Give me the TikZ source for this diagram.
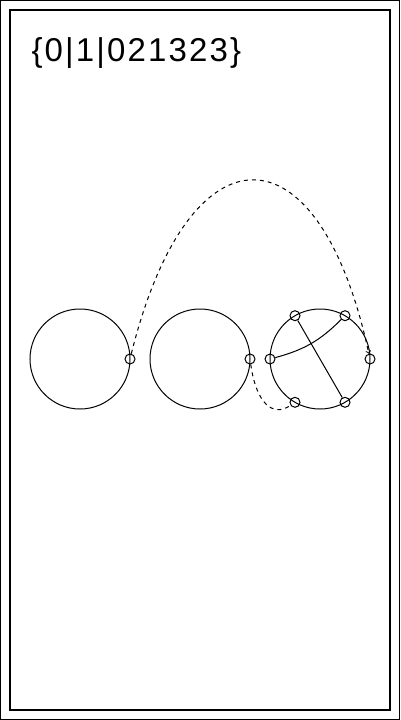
\documentclass[tikz,border=0pt]{standalone}
\usepackage{fontspec}
\setmainfont{Liberation Sans}
\newfontfamily\codefont[LetterSpace=6.5]{Liberation Sans}
\begin{document}
\begin{tikzpicture}[x=1pt, y=-1pt, line width=1pt,
    ring/.style={circle, draw, minimum size=100pt, inner sep=0pt, outer sep=0pt},
    port/.style={circle, draw, minimum size=10pt, inner sep=0pt},
    jump/.style={dash pattern=on 4pt off 4pt}]
    \useasboundingbox (0,0) rectangle (400,720);
    \draw (0.5,0.5) rectangle (399.5,719.5);
    \draw[line width=2pt] (10,10) rectangle (390,710);

    \node (code) at (31,61) [anchor=base west, font=\codefont\fontsize{33}{40}\selectfont, inner sep=0pt] {\{0|1|021323\}};

    \node (c1) at (80,359) [ring] {};
    \node (c2) at (200,359) [ring] {};
    \node (c3) at (320,359) [ring] {};

    \node (p1) at (c1.0) [port] {};
    \node (p2) at (c2.0) [port] {};
    \foreach \a [count=\i from 0] in {0,60,...,300}
        \node (p3\i) at (c3.\a) [port] {};

    \draw (p32) -- (p35);
    \draw (p33) to[bend right=15] (p31);

    \draw[jump, ->] (p1) .. controls (189,122) and (319,122) .. (p30);
    \draw[jump] (p2) .. controls (256,402) and (272,418) .. (p34);
\end{tikzpicture}
\end{document}
